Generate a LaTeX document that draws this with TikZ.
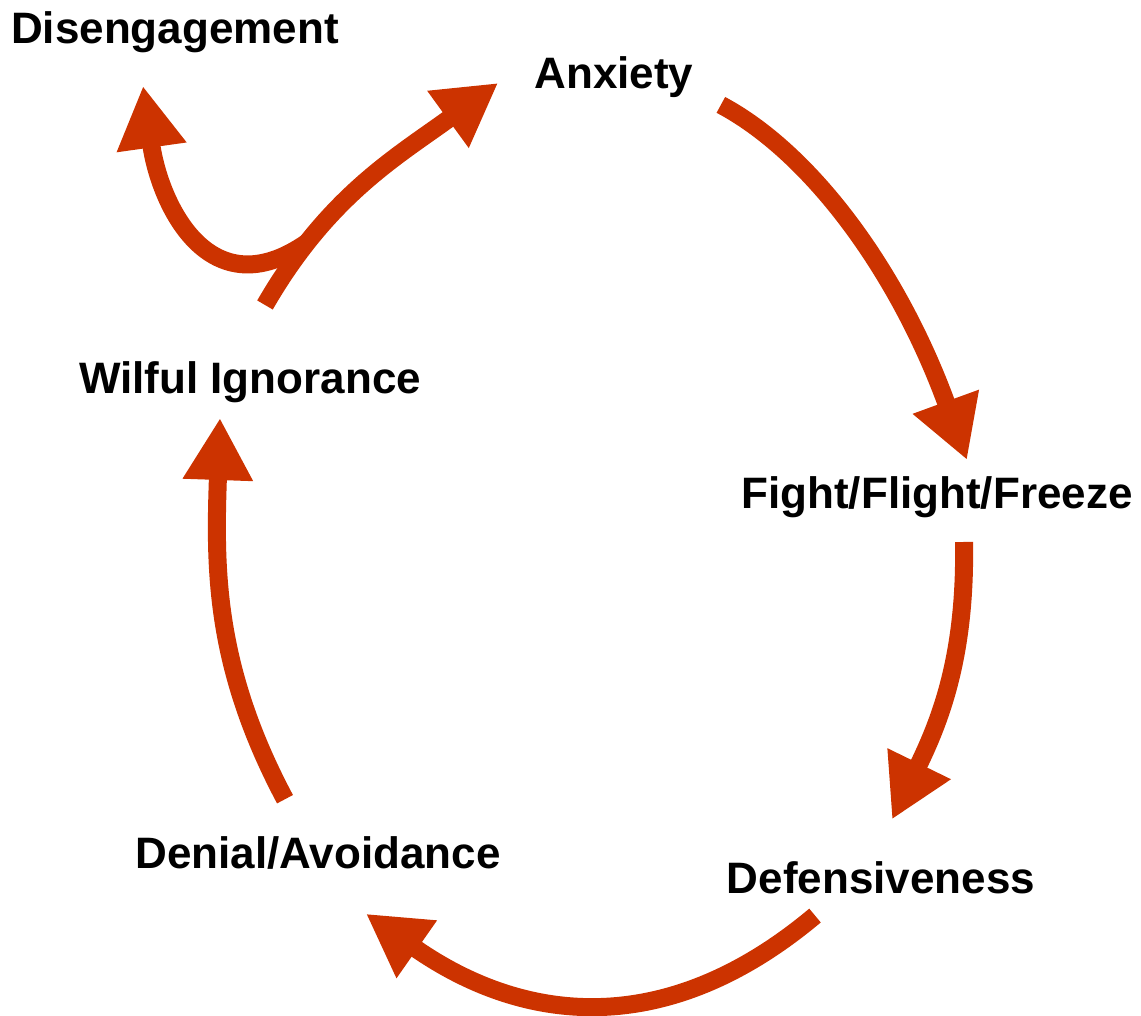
\documentclass[tikz,border=0pt]{standalone}
\usepackage{fontspec}
\setmainfont{Liberation Sans}
\usepackage{xcolor}
\usetikzlibrary{arrows.meta}
\definecolor{cyclered}{HTML}{CC3300}
\tikzset{
    stage/.style={font=\bfseries\fontsize{22}{26}\selectfont, inner sep=0pt},
    flow/.style={line width=9pt, draw=cyclered, -{Triangle[length=31pt, width=33pt]}}
}

\begin{document}
\begin{tikzpicture}[x=0.5pt, y=0.5pt]
\useasboundingbox (0,0) rectangle (1141,1016);

% Nodes
\node[stage] (dis) at (175,984) {Disengagement};
\node[stage] (anx) at (614,939) {Anxiety};
\node[stage] (wil) at (250,634) {Wilful Ignorance};
\node[stage] (fff) at (937,519) {Fight/Flight/Freeze};
\node[stage] (def) at (881,138) {Defensiveness};
\node[stage] (den) at (318,163) {Denial/Avoidance};

% Arcs (clockwise cycle)
\draw[flow] ([shift={(27,-7)}]anx.south east) to[out=-28, in=110, out looseness=0.6, in looseness=1.2] ([shift={(30,16)}]fff.north);
\draw[flow] ([shift={(27,-24)}]fff.south) to[out=-89, in=64] ([shift={(11,42)}]def.north);
\draw[flow] ([shift={(-66,-21)}]def.south) to[out=-140, in=-35, looseness=1.1] ([shift={(48,-44)}]den.south);
\draw[flow] ([shift={(-33,37)}]den.north) to[out=118, in=-92] ([shift={(-30,-15)}]wil.south);
\draw[flow] ([shift={(15,56)}]wil.north) to[out=60, in=-144] coordinate[pos=0.22] (split) ([shift={(-36,-6)}]anx.west);

% way out of the cycle
\draw[flow] (split) to[out=-145, in=-82, looseness=1.35] ([shift={(-32,-33)}]dis.south);

\end{tikzpicture}
\end{document}
